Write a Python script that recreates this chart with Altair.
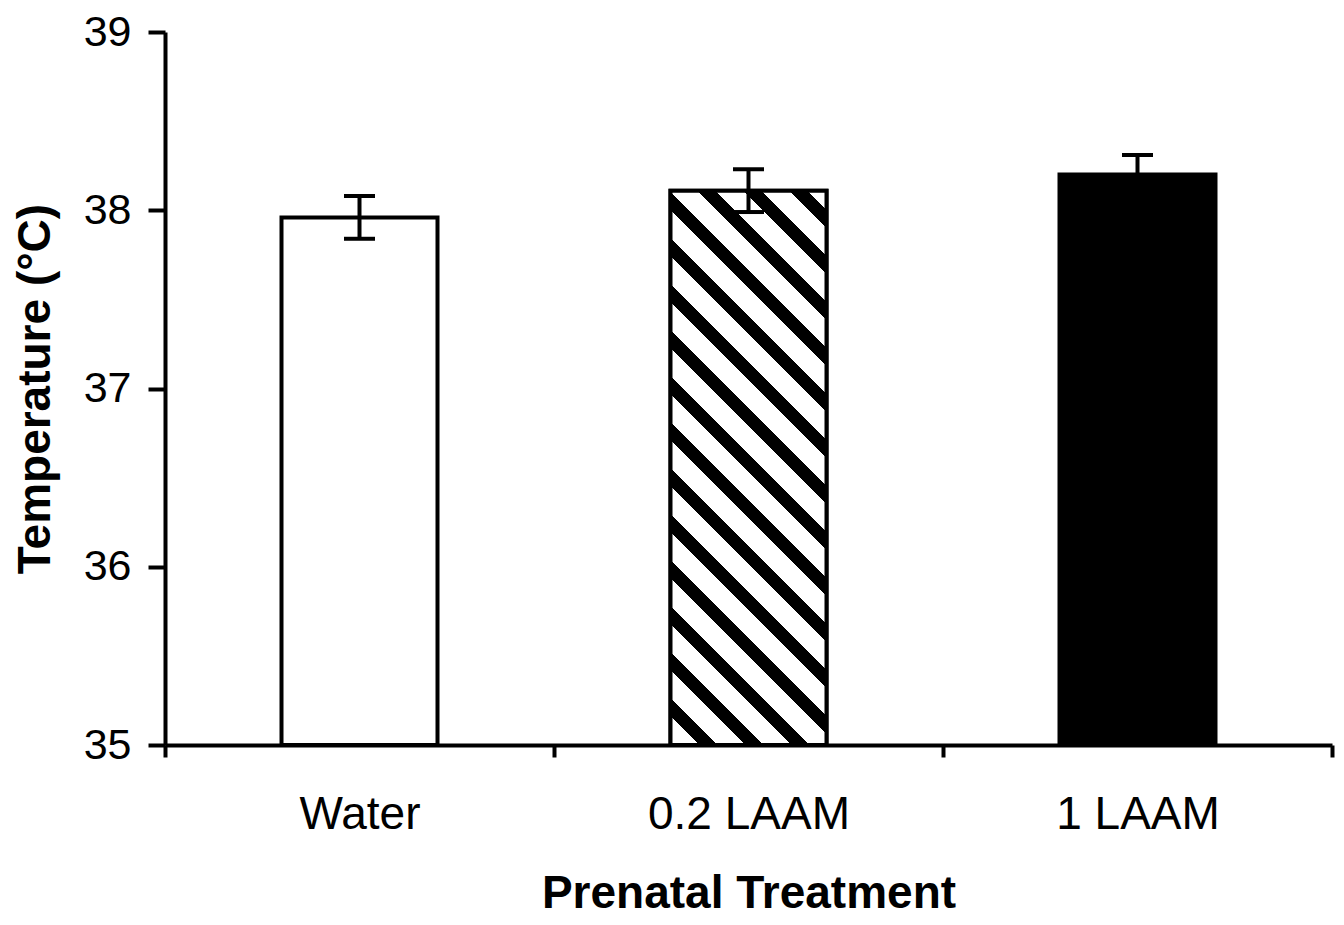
import altair as alt
import pandas as pd

# ---- data ----
categories = ["Water", "0.2 LAAM", "1 LAAM"]
means = [37.96, 38.11, 38.20]
errors = [0.12, 0.12, 0.11]
styles = ["white", "hatch", "black"]
y_ticks = [35, 36, 37, 38, 39]

# ---- layout ----
Y_MIN, Y_MAX = 35, 39
PLOT_W, PLOT_H = 1167, 713
BAR_W = 156
FONT = "Liberation Sans"

df = pd.DataFrame({"cat": categories, "mean": means, "err": errors, "style": styles})
df["lo"] = df["mean"] - df["err"]
df["hi"] = df["mean"] + df["err"]

# ---- diagonal hatch built as a hard-stop linear gradient (objectBoundingBox units) ----
H = (means[1] - Y_MIN) / (Y_MAX - Y_MIN) * PLOT_H
W = BAR_W
s = (W + H) / (W * W + H * H)
span = W + H
period, black_w, phase = 46.0, 18.0, 29.0
stops = [alt.GradientStop(offset=0, color="white")]
k = 0
while True:
    a = phase + k * period
    if a >= span:
        break
    b = min(a + black_w, span)
    stops += [
        alt.GradientStop(offset=a / span, color="white"),
        alt.GradientStop(offset=a / span, color="black"),
        alt.GradientStop(offset=b / span, color="black"),
        alt.GradientStop(offset=b / span, color="white"),
    ]
    k += 1
stops.append(alt.GradientStop(offset=1, color="white"))
hatch = alt.LinearGradient(gradient="linear", stops=stops,
                           x1=0, y1=1, x2=s * W, y2=1 - s * H)

x_enc = alt.X("cat:N", sort=categories,
              scale=alt.Scale(paddingInner=0, paddingOuter=0),
              axis=alt.Axis(title="Prenatal Treatment", tickBand="extent", labelAngle=0,
                            labelLimit=0, tickSize=12, tickWidth=4, domainWidth=4,
                            labelPadding=35, labelFontSize=46,
                            titleFontSize=46, titleFontWeight="bold",
                            titleY=162, titleBaseline="alphabetic"))
y_scale = alt.Scale(domain=[Y_MIN, Y_MAX], nice=False, zero=False)
y_title = "Temperature (°C)"

base = alt.Chart(df)

bars = base.mark_bar(width=BAR_W, stroke="black", strokeWidth=4).encode(
    x=x_enc,
    y=alt.Y("mean:Q", scale=y_scale, title=y_title,
            axis=alt.Axis(values=y_ticks, format="d", tickSize=17, tickWidth=4,
                          domainWidth=4, labelPadding=17, labelFontSize=43,
                          titleFontSize=46, titleFontWeight="bold", titleAngle=270,
                          titleX=-116, titleY=PLOT_H / 2, titleAlign="center",
                          titleBaseline="alphabetic")),
    y2=alt.datum(Y_MIN),
    fill=alt.Fill("style:N", scale=alt.Scale(domain=["white", "hatch", "black"],
                                             range=["white", "white", "black"]),
                  legend=None),
)

hatched = base.transform_filter(alt.datum.style == "hatch").mark_bar(
    width=BAR_W, stroke="black", strokeWidth=4, fill=hatch
).encode(
    x=alt.X("cat:N", sort=categories),
    y=alt.Y("mean:Q", scale=y_scale, title=y_title),
    y2=alt.datum(Y_MIN),
)

rules = base.mark_rule(color="black", strokeWidth=4).encode(
    x=alt.X("cat:N", sort=categories),
    y=alt.Y("lo:Q", scale=y_scale, title=y_title),
    y2="hi:Q",
)

caps = base.transform_fold(["lo", "hi"], as_=["which", "val"]).mark_tick(
    color="black", thickness=4, size=31, orient="horizontal", opacity=1
).encode(
    x=alt.X("cat:N", sort=categories),
    y=alt.Y("val:Q", scale=y_scale, title=y_title),
)

chart = alt.layer(bars, hatched, rules, caps).properties(
    width=PLOT_W, height=PLOT_H,
    autosize=alt.AutoSizeParams(type="none"),
    padding={"left": 157, "top": 24, "right": 4, "bottom": 172},
    background="white",
).configure_axis(
    grid=False, domainColor="black", domainWidth=4, tickColor="black", tickWidth=4,
    labelColor="black", titleColor="black", labelFont=FONT, titleFont=FONT,
).configure_view(stroke=None)

chart.save("out.html", embed_options={"renderer": "svg", "actions": False})
